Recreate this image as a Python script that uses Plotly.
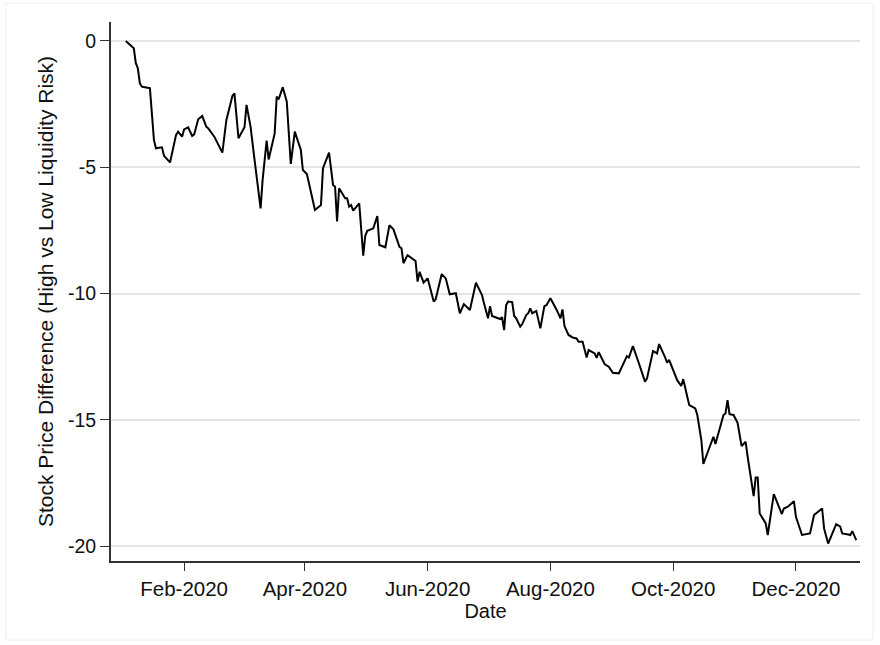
import plotly.graph_objects as go

# Daily observations of the high-minus-low liquidity-risk price gap, 2020
dates = [
    "2020-01-03", "2020-01-05", "2020-01-07", "2020-01-08", "2020-01-09", "2020-01-10",
    "2020-01-11", "2020-01-15", "2020-01-16", "2020-01-17", "2020-01-18", "2020-01-21",
    "2020-01-22", "2020-01-25", "2020-01-28", "2020-01-29", "2020-01-31", "2020-02-01",
    "2020-02-03", "2020-02-05", "2020-02-06", "2020-02-08", "2020-02-10", "2020-02-12",
    "2020-02-13", "2020-02-16", "2020-02-20", "2020-02-22", "2020-02-25", "2020-02-26",
    "2020-02-28", "2020-03-02", "2020-03-03", "2020-03-05", "2020-03-07", "2020-03-10",
    "2020-03-11", "2020-03-13", "2020-03-14", "2020-03-17", "2020-03-18", "2020-03-19",
    "2020-03-21", "2020-03-23", "2020-03-25", "2020-03-27", "2020-03-30", "2020-03-31",
    "2020-04-02", "2020-04-06", "2020-04-09", "2020-04-10", "2020-04-13", "2020-04-15",
    "2020-04-16", "2020-04-17", "2020-04-18", "2020-04-21", "2020-04-22", "2020-04-23",
    "2020-04-24", "2020-04-25", "2020-04-28", "2020-04-30", "2020-05-01", "2020-05-02",
    "2020-05-05", "2020-05-07", "2020-05-08", "2020-05-11", "2020-05-13", "2020-05-15",
    "2020-05-18", "2020-05-19", "2020-05-20", "2020-05-22", "2020-05-26", "2020-05-27",
    "2020-05-28", "2020-05-30", "2020-06-01", "2020-06-04", "2020-06-05", "2020-06-08",
    "2020-06-10", "2020-06-12", "2020-06-15", "2020-06-17", "2020-06-19", "2020-06-22",
    "2020-06-25", "2020-06-28", "2020-06-29", "2020-07-01", "2020-07-02", "2020-07-03",
    "2020-07-07", "2020-07-08", "2020-07-09", "2020-07-10", "2020-07-11", "2020-07-13",
    "2020-07-14", "2020-07-15", "2020-07-17", "2020-07-18", "2020-07-20", "2020-07-21",
    "2020-07-22", "2020-07-23", "2020-07-25", "2020-07-27", "2020-07-29", "2020-07-30",
    "2020-08-01", "2020-08-02", "2020-08-04", "2020-08-06", "2020-08-07", "2020-08-08",
    "2020-08-10", "2020-08-12", "2020-08-14", "2020-08-15", "2020-08-17", "2020-08-19",
    "2020-08-20", "2020-08-23", "2020-08-24", "2020-08-25", "2020-08-28", "2020-08-30",
    "2020-09-01", "2020-09-04", "2020-09-08", "2020-09-09", "2020-09-11", "2020-09-14",
    "2020-09-17", "2020-09-18", "2020-09-21", "2020-09-23", "2020-09-24", "2020-09-27",
    "2020-09-28", "2020-09-29", "2020-10-03", "2020-10-05", "2020-10-06", "2020-10-08",
    "2020-10-09", "2020-10-12", "2020-10-13", "2020-10-15", "2020-10-16", "2020-10-21",
    "2020-10-22", "2020-10-26", "2020-10-27", "2020-10-28", "2020-10-29", "2020-10-31",
    "2020-11-02", "2020-11-04", "2020-11-06", "2020-11-07", "2020-11-10", "2020-11-11",
    "2020-11-12", "2020-11-13", "2020-11-16", "2020-11-17", "2020-11-20", "2020-11-24",
    "2020-11-25", "2020-11-27", "2020-11-30", "2020-12-01", "2020-12-04", "2020-12-08",
    "2020-12-10", "2020-12-14", "2020-12-15", "2020-12-17", "2020-12-21", "2020-12-23",
    "2020-12-24", "2020-12-27", "2020-12-28", "2020-12-29", "2020-12-31",
]

price_diff = [
    0.00, -0.16, -0.29, -0.88, -1.08, -1.68,
    -1.81, -1.87, -3.00, -3.92, -4.25, -4.21,
    -4.55, -4.81, -3.72, -3.59, -3.79, -3.50,
    -3.42, -3.76, -3.70, -3.10, -2.97, -3.39,
    -3.46, -3.79, -4.42, -3.13, -2.18, -2.07,
    -3.85, -3.42, -2.53, -3.39, -4.71, -6.63,
    -5.50, -3.95, -4.69, -3.66, -2.20, -2.31,
    -1.83, -2.40, -4.87, -3.59, -4.32, -5.11,
    -5.27, -6.69, -6.50, -5.04, -4.42, -5.70,
    -5.77, -7.15, -5.83, -6.23, -6.23, -6.56,
    -6.50, -6.72, -6.43, -8.50, -7.72, -7.52,
    -7.42, -6.93, -8.08, -8.17, -7.30, -7.46,
    -8.15, -8.21, -8.80, -8.48, -8.71, -9.53,
    -9.14, -9.57, -9.40, -10.32, -10.23, -9.23,
    -9.40, -10.03, -9.99, -10.78, -10.42, -10.65,
    -9.57, -10.06, -10.39, -10.98, -10.50, -10.89,
    -11.01, -10.94, -11.45, -10.46, -10.32, -10.34,
    -10.89, -10.98, -11.31, -11.21, -10.85, -10.78,
    -10.59, -10.78, -10.69, -11.38, -10.50, -10.46,
    -10.19, -10.32, -10.63, -10.98, -10.63, -11.29,
    -11.64, -11.74, -11.78, -11.91, -11.91, -12.53,
    -12.24, -12.37, -12.55, -12.32, -12.80, -12.90,
    -13.14, -13.16, -12.48, -12.53, -12.08, -12.77,
    -13.49, -13.36, -12.28, -12.37, -12.00, -12.53,
    -12.74, -12.63, -13.43, -13.66, -13.39, -14.09,
    -14.42, -14.55, -14.81, -15.80, -16.75, -15.67,
    -15.96, -14.81, -14.75, -14.22, -14.78, -14.81,
    -15.12, -16.04, -15.87, -16.46, -18.02, -17.28,
    -17.28, -18.71, -19.10, -19.56, -17.94, -18.73,
    -18.51, -18.44, -18.22, -18.84, -19.56, -19.50,
    -18.77, -18.51, -19.31, -19.90, -19.13, -19.23,
    -19.50, -19.54, -19.56, -19.41, -19.76,
]

x_tick_dates = ["2020-02-01", "2020-04-01", "2020-06-01", "2020-08-01", "2020-10-01", "2020-12-01"]
x_tick_labels = ["Feb-2020", "Apr-2020", "Jun-2020", "Aug-2020", "Oct-2020", "Dec-2020"]
y_tick_values = [0, -5, -10, -15, -20]
y_tick_labels = ["0", "-5", "-10", "-15", "-20"]

FONT = "Liberation Sans, Arial, Helvetica, sans-serif"
AXIS_COLOR = "#333333"
GRID_COLOR = "#e4e4e4"

fig = go.Figure()
fig.add_trace(go.Scatter(
    x=dates, y=price_diff, mode="lines",
    line=dict(color="#000000", width=2),
    hoverinfo="x+y", showlegend=False,
))

fig.update_layout(
    width=880, height=645,
    margin=dict(l=111, r=20, t=22, b=84),
    paper_bgcolor="white", plot_bgcolor="white",
    font=dict(family=FONT, size=20, color="#111111"),
    showlegend=False,
)

fig.update_xaxes(
    type="date",
    range=["2019-12-26 16:00", "2021-01-01 20:00"],
    tickvals=x_tick_dates, ticktext=x_tick_labels,
    ticks="outside", ticklen=8, tickwidth=1.4, tickcolor=AXIS_COLOR,
    showline=True, linecolor=AXIS_COLOR, linewidth=2,
    showgrid=False, zeroline=False,
    title=dict(text="Date", font=dict(size=20), standoff=2),
    tickfont=dict(size=20.5),
)

fig.update_yaxes(
    range=[-20.59, 0.75],
    tickvals=y_tick_values, ticktext=y_tick_labels,
    ticks="outside", ticklen=9, tickwidth=1.4, tickcolor=AXIS_COLOR,
    showline=True, linecolor=AXIS_COLOR, linewidth=2,
    showgrid=True, gridcolor=GRID_COLOR, gridwidth=1.5,
    zeroline=False,
    title=dict(text="Stock Price Difference (High vs Low Liquidity Risk)", font=dict(size=21), standoff=9),
    tickfont=dict(size=19.5),
)

# Thin frame around the whole graph region
fig.add_shape(
    type="rect", xref="paper", yref="paper",
    x0=-105 / 749, x1=1 + 13 / 749, y0=-79 / 539, y1=1 + 19 / 539,
    line=dict(color="#eeeeee", width=1), fillcolor="rgba(0,0,0,0)", layer="below",
)

fig.write_html("out.html")
